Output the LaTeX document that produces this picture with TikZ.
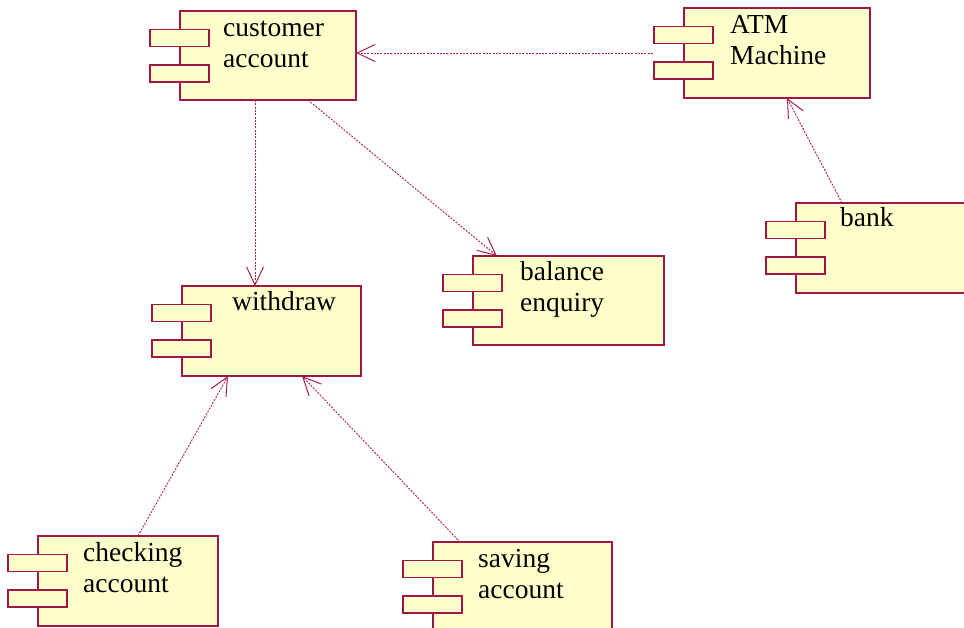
\documentclass[tikz,border=0pt]{standalone}
\usepackage{fontspec}
\setmainfont{Liberation Serif}
\usetikzlibrary{arrows.meta}
\definecolor{compfill}{RGB}{255,255,204}
\definecolor{compline}{RGB}{160,20,70}
\definecolor{deplink}{RGB}{170,30,80}
\tikzset{
 body/.style={draw=compline, fill=compfill, line width=1.2pt, anchor=north west, inner sep=0pt, outer sep=0pt},
 comptab/.style={draw=compline, fill=compfill, line width=1.2pt, anchor=north west, minimum width=59pt, minimum height=17pt, inner sep=0pt, outer sep=0pt},
 comptext/.style={anchor=base west, inner sep=0pt, align=left, font=\fontsize{27.5}{31}\selectfont},
 dep/.style={draw=deplink, line width=0.9pt, dash pattern=on 2pt off 1.3pt, -{Straight Barb[length=18pt,width=17pt,line width=1pt]}},
}
% name, x, y, w, h, text x, baseline of last line, text
\newcommand\umlcomp[8]{%
 \node[body, minimum width=#4pt, minimum height=#5pt] (#1) at (#2,#3) {};
 \node[comptab] (#1t1) at (#2-30,#3+18.5) {};
 \node[comptab] (#1t2) at (#2-30,#3+54) {};
 \node[comptext] (#1l) at (#6,#7) {#8};
}
\begin{document}
\begin{tikzpicture}[x=1pt,y=-1pt]
\useasboundingbox (0,0) rectangle (964,627);
\umlcomp{ca}{180}{11}{176}{89}{223}{67}{customer\\account}
\umlcomp{atm}{684}{8}{186}{90}{730}{64}{ATM\\Machine}
\umlcomp{bank}{796}{203}{180}{90}{840}{226}{bank}
\umlcomp{be}{473}{256}{191}{89}{520}{311}{balance\\enquiry}
\umlcomp{wd}{182}{286}{179}{90}{232}{310}{withdraw}
\umlcomp{chk}{38}{536}{180}{90}{83}{592}{checking\\account}
\umlcomp{sav}{433}{542}{179}{90}{478}{598}{saving\\account}
\draw[dep] ([xshift=75pt]ca.south west) -- ([xshift=73pt]wd.north west);
\draw[dep] ([xshift=-31pt]atm.west) -- (atm.west -| ca.east);
\draw[dep] ([xshift=128pt]ca.south west) -- ([xshift=24pt]be.north west);
\draw[dep] ([xshift=46pt]bank.north west) -- ([xshift=103pt]atm.south west);
\draw[dep] ([xshift=100pt]chk.north west) -- ([xshift=46pt]wd.south west);
\draw[dep] ([xshift=27pt]sav.north west) -- ([xshift=120pt]wd.south west);
\end{tikzpicture}
\end{document}
